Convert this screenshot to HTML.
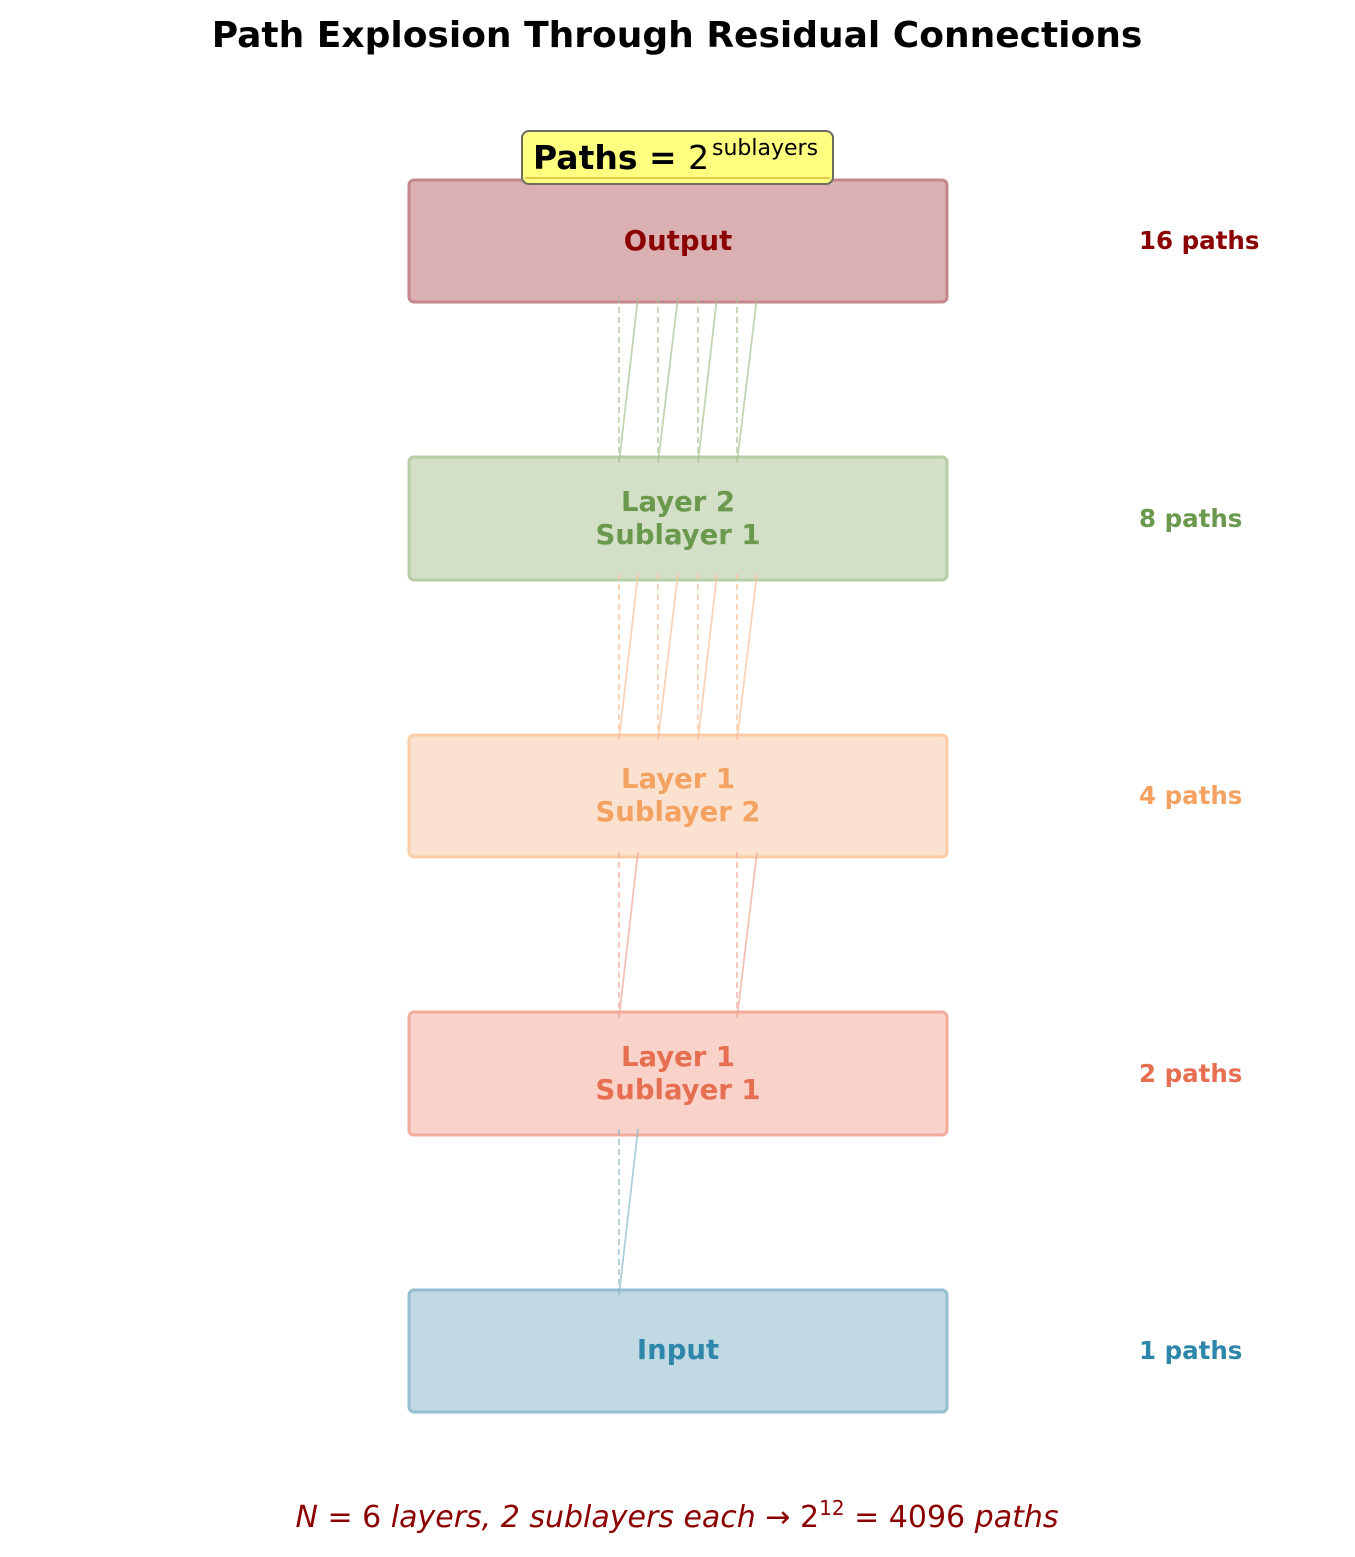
<!DOCTYPE html>
<html><head><meta charset="utf-8"><style>
html,body{margin:0;padding:0;background:#fff;}
svg{display:block;font-family:"DejaVu Sans","Liberation Sans",sans-serif;}
</style></head><body>
<svg width="1355" height="1557" viewBox="0 0 1355 1557" xmlns="http://www.w3.org/2000/svg">
<text x="677" y="47" text-anchor="middle" font-size="36" font-weight="bold" fill="#000">Path Explosion Through Residual Connections</text>

<g stroke-width="3">
<rect x="409" y="180" width="538" height="122" rx="5" fill="#dbb0b2" stroke="#c4878b"/>
<rect x="409" y="457" width="538" height="123" rx="5" fill="#d4dfc8" stroke="#b7cda5"/>
<rect x="409" y="735" width="538" height="122" rx="5" fill="#fbe2d0" stroke="#fbcca8"/>
<rect x="409" y="1012" width="538" height="123" rx="5" fill="#f9d2ca" stroke="#f3ab9c"/>
<rect x="409" y="1290" width="538" height="122" rx="5" fill="#c1d9e3" stroke="#95bfd1"/>
</g>

<g stroke-width="1.8" fill="none" opacity="0.7">
<g stroke="#a9c494">
<path d="M619 297V463M658 297V463M698 297V463M737 297V463" stroke-dasharray="6,4"/>
<path d="M638 297L619 463M678 297L658 463M717 297L698 463M757 297L737 463"/>
</g>
<g stroke="#f9c09a">
<path d="M619 574V740M658 574V740M698 574V740M737 574V740" stroke-dasharray="6,4"/>
<path d="M638 574L619 740M678 574L658 740M717 574L698 740M757 574L737 740"/>
</g>
<g stroke="#f2a797">
<path d="M619 852V1018M737 852V1018" stroke-dasharray="6,4"/>
<path d="M638 852L619 1018M757 852L737 1018"/>
</g>
<g stroke="#8fb9cd">
<path d="M619 1129V1295" stroke-dasharray="6,4"/>
<path d="M638 1129L619 1295"/>
</g>
</g>

<g font-size="27.5" font-weight="bold" text-anchor="middle">
<text x="678" y="250" fill="#8b0000">Output</text>
<text x="678" y="511" fill="#6a994e">Layer 2</text>
<text x="678" y="544" fill="#6a994e">Sublayer 1</text>
<text x="678" y="788" fill="#f4a261">Layer 1</text>
<text x="678" y="821" fill="#f4a261">Sublayer 2</text>
<text x="678" y="1066" fill="#e76f51">Layer 1</text>
<text x="678" y="1099" fill="#e76f51">Sublayer 1</text>
<text x="678" y="1359" fill="#2e86ab">Input</text>
</g>

<g font-size="24.5" font-weight="bold">
<text x="1139" y="249" fill="#8b0000">16 paths</text>
<text x="1139" y="527" fill="#6a994e">8 paths</text>
<text x="1139" y="804" fill="#f4a261">4 paths</text>
<text x="1139" y="1082" fill="#e76f51">2 paths</text>
<text x="1139" y="1359" fill="#2e86ab">1 paths</text>
</g>

<rect x="522" y="131" width="311" height="53" rx="7" fill="#ffff80" stroke="#6b6b60" stroke-width="2"/>
<line x1="525" y1="178" x2="830" y2="178" stroke="#e8c84a" stroke-width="2"/>
<text x="533" y="169" font-size="33" fill="#000"><tspan font-weight="bold">Paths = </tspan>2</text>
<text x="712" y="155" font-size="22" fill="#000">sublayers</text>

<text x="677" y="1527" text-anchor="middle" font-size="30" fill="#8b0000" font-style="italic">N<tspan font-style="normal"> = 6 </tspan>layers, 2 sublayers each → <tspan font-style="normal">2</tspan><tspan font-style="normal" font-size="20" dy="-12">12</tspan><tspan font-style="normal" dy="12"> = 4096 </tspan>paths</text>
</svg>
</body></html>
